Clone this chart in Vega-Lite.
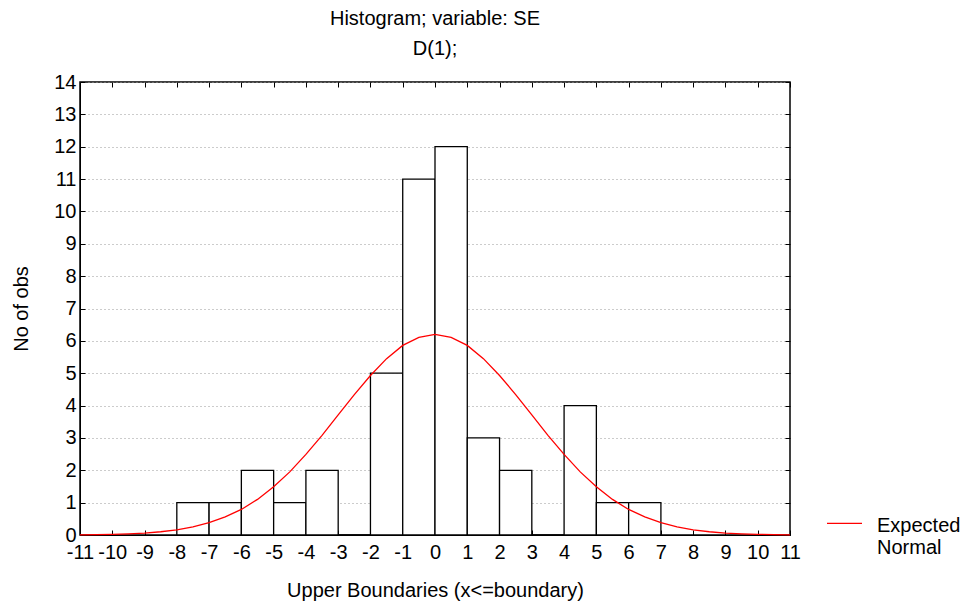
{
  "$schema": "https://vega.github.io/schema/vega-lite/v6.json",
  "width": 710,
  "height": 453,
  "autosize": {"type": "none"},
  "padding": {"left": 80, "top": 82, "right": 173, "bottom": 67},
  "background": "white",
  "config": {
    "font": "Liberation Sans",
    "view": {"stroke": "black", "strokeWidth": 1.5},
    "axis": {"labelFont": "Liberation Sans", "titleFont": "Liberation Sans", "labelFontSize": 20, "titleFontSize": 20, "titleFontWeight": "normal", "labelColor": "black", "titleColor": "black", "domainColor": "black", "tickColor": "black", "labelOverlap": false}
  },
  "title": {
    "text": "Histogram; variable: SE",
    "subtitle": "D(1);",
    "fontSize": 20,
    "subtitleFontSize": 20,
    "fontWeight": "normal",
    "font": "Liberation Sans",
    "subtitleFont": "Liberation Sans",
    "color": "black",
    "subtitleColor": "black",
    "offset": 13,
    "subtitlePadding": 10,
    "anchor": "middle"
  },
  "datasets": {
    "bars": [
      {"lo": -8, "hi": -7, "n": 1},
      {"lo": -7, "hi": -6, "n": 1},
      {"lo": -6, "hi": -5, "n": 2},
      {"lo": -5, "hi": -4, "n": 1},
      {"lo": -4, "hi": -3, "n": 2},
      {"lo": -3, "hi": -2, "n": 0},
      {"lo": -2, "hi": -1, "n": 5},
      {"lo": -1, "hi": 0, "n": 11},
      {"lo": 0, "hi": 1, "n": 12},
      {"lo": 1, "hi": 2, "n": 3},
      {"lo": 2, "hi": 3, "n": 2},
      {"lo": 3, "hi": 4, "n": 0},
      {"lo": 4, "hi": 5, "n": 4},
      {"lo": 5, "hi": 6, "n": 1},
      {"lo": 6, "hi": 7, "n": 1}
    ],
    "curve": [
      {"x": -11, "y": 0.006}, {"x": -10.5, "y": 0.011}, {"x": -10, "y": 0.021}, {"x": -9.5, "y": 0.036},
      {"x": -9, "y": 0.061}, {"x": -8.5, "y": 0.10}, {"x": -8, "y": 0.16}, {"x": -7.5, "y": 0.25},
      {"x": -7, "y": 0.38}, {"x": -6.5, "y": 0.56}, {"x": -6, "y": 0.79}, {"x": -5.5, "y": 1.10},
      {"x": -5, "y": 1.49}, {"x": -4.5, "y": 1.95}, {"x": -4, "y": 2.49}, {"x": -3.5, "y": 3.08},
      {"x": -3, "y": 3.71}, {"x": -2.5, "y": 4.34}, {"x": -2, "y": 4.93}, {"x": -1.5, "y": 5.45},
      {"x": -1, "y": 5.86}, {"x": -0.5, "y": 6.11}, {"x": 0, "y": 6.2}, {"x": 0.5, "y": 6.11},
      {"x": 1, "y": 5.86}, {"x": 1.5, "y": 5.45}, {"x": 2, "y": 4.93}, {"x": 2.5, "y": 4.34},
      {"x": 3, "y": 3.71}, {"x": 3.5, "y": 3.08}, {"x": 4, "y": 2.49}, {"x": 4.5, "y": 1.95},
      {"x": 5, "y": 1.49}, {"x": 5.5, "y": 1.10}, {"x": 6, "y": 0.79}, {"x": 6.5, "y": 0.56},
      {"x": 7, "y": 0.38}, {"x": 7.5, "y": 0.25}, {"x": 8, "y": 0.16}, {"x": 8.5, "y": 0.10},
      {"x": 9, "y": 0.061}, {"x": 9.5, "y": 0.036}, {"x": 10, "y": 0.021}, {"x": 10.5, "y": 0.011},
      {"x": 11, "y": 0.006}
    ]
  },
  "resolve": {"axis": {"x": "independent", "y": "independent"}},
  "layer": [
    {
      "data": {"name": "bars"},
      "mark": {"type": "rect", "fill": "white", "stroke": "black", "strokeWidth": 1.3},
      "encoding": {
        "x": {"field": "lo", "type": "quantitative", "scale": {"domain": [-11, 11], "nice": false},
          "axis": {"values": [-11,-10,-9,-8,-7,-6,-5,-4,-3,-2,-1,0,1,2,3,4,5,6,7,8,9,10,11], "title": "Upper Boundaries (x<=boundary)", "tickSize": -5, "labelPadding": 12, "titlePadding": 18, "grid": false, "labelFlush": false, "labelExpr": "toString(datum.value)"}},
        "x2": {"field": "hi"},
        "y": {"field": "n", "type": "quantitative", "scale": {"domain": [0, 14], "nice": false},
          "axis": {"values": [0,1,2,3,4,5,6,7,8,9,10,11,12,13,14], "title": "No of obs", "tickSize": -5, "labelPadding": 9, "titlePadding": 22, "grid": true, "gridColor": "#999999", "gridDash": [1, 3], "gridWidth": 1, "labelFlush": false}},
        "y2": {"datum": 0}
      }
    },
    {
      "data": {"name": "curve"},
      "mark": {"type": "line", "color": "#ff0000", "strokeWidth": 1.3, "interpolate": "linear"},
      "encoding": {
        "x": {"field": "x", "type": "quantitative",
          "axis": {"orient": "top", "values": [-11,-10,-9,-8,-7,-6,-5,-4,-3,-2,-1,0,1,2,3,4,5,6,7,8,9,10,11], "labels": false, "title": null, "tickSize": -5, "domain": false, "grid": false}},
        "y": {"field": "y", "type": "quantitative",
          "axis": {"orient": "right", "values": [0,1,2,3,4,5,6,7,8,9,10,11,12,13,14], "labels": false, "title": null, "tickSize": -5, "domain": false, "grid": false}},
        "color": {"datum": "Expected Normal", "type": "nominal", "scale": {"range": ["#ff0000"]},
          "legend": {"orient": "none", "legendX": 746, "legendY": 415, "title": null, "symbolType": "M-1,0.45H1", "symbolSize": 1225, "symbolStrokeWidth": 1.3, "labelFontSize": 20, "labelFont": "Liberation Sans", "labelColor": "black", "labelExpr": "['Expected', 'Normal']", "labelOffset": 14, "labelBaseline": "top", "labelLimit": 200}}
      }
    }
  ]
}
